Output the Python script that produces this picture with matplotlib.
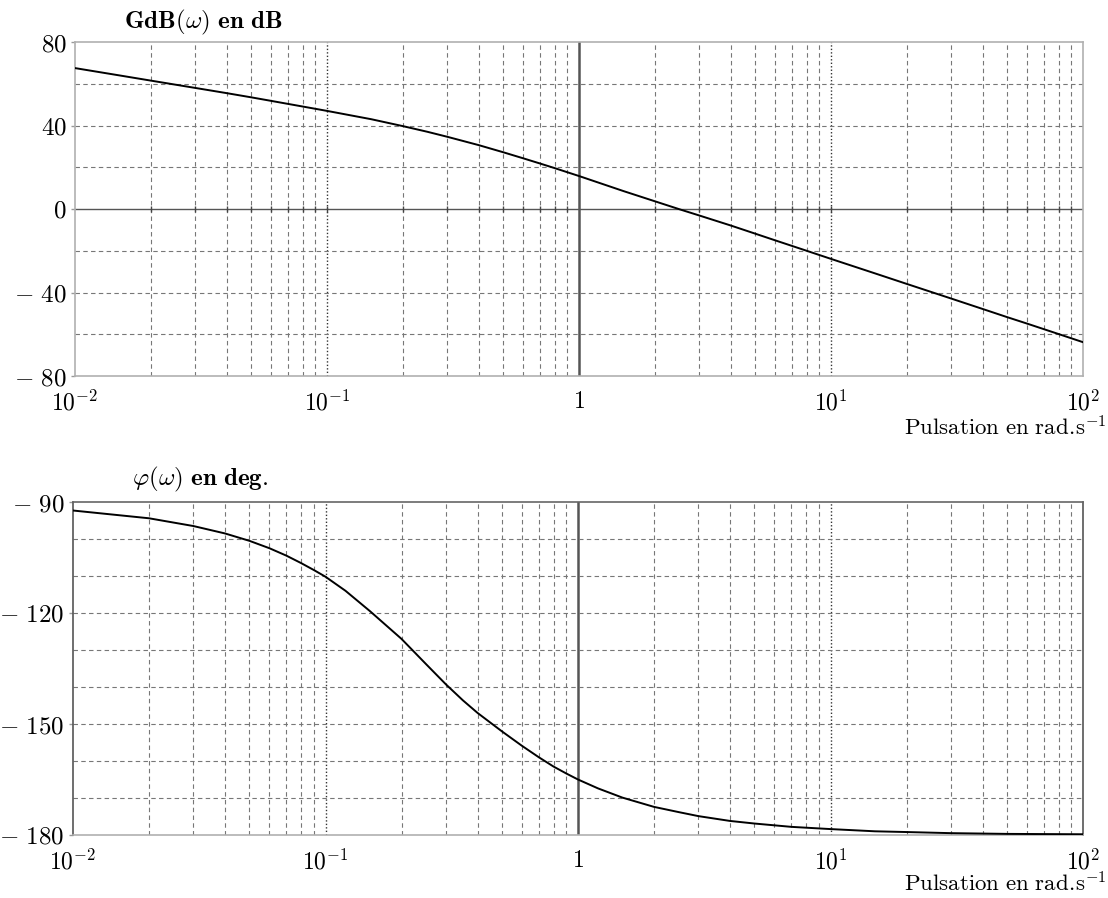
import numpy as np
import matplotlib
matplotlib.use("Agg")
import matplotlib.pyplot as plt
from matplotlib.ticker import FixedLocator, NullFormatter

plt.rcParams["mathtext.fontset"] = "cm"
plt.rcParams["font.family"] = "serif"

# Gain readings (rad/s, dB)
omega_gain = [0.01, 0.015, 0.02, 0.03, 0.04, 0.05, 0.06, 0.08, 0.1, 0.12,
              0.15, 0.2, 0.25, 0.3, 0.4, 0.5, 0.6, 0.7, 0.8, 1, 1.5, 2, 2.5,
              3, 4, 5, 6, 8, 10, 15, 20, 30, 40, 50, 60, 80, 100]
gain_db = [67.5, 64.0, 61.5, 58.0, 55.5, 53.5, 51.8, 49.1, 47.0, 45.2,
           43.0, 39.7, 37.0, 34.6, 30.6, 27.2, 24.3, 21.8, 19.6, 15.8, 8.6,
           3.7, -0.1, -3.1, -7.9, -11.8, -15.0, -20.0, -23.9, -30.9, -35.9,
           -42.9, -47.9, -51.8, -54.9, -59.9, -63.8]

# Phase readings (rad/s, deg)
omega_phase = [0.01, 0.02, 0.03, 0.04, 0.05, 0.06, 0.07, 0.08, 0.09, 0.1,
               0.12, 0.15, 0.2, 0.25, 0.3, 0.35, 0.4, 0.5, 0.6, 0.7, 0.8,
               0.9, 1, 1.2, 1.5, 2, 2.5, 3, 4, 5, 7, 10, 15, 20, 30, 50, 100]
phase_deg = [-92.3, -94.4, -96.5, -98.5, -100.5, -102.5, -104.5, -106.5,
             -108.4, -110.2, -114.0, -119.5, -127.0, -133.8, -139.3, -143.6,
             -147.0, -152.0, -155.9, -159.0, -161.5, -163.4, -165.0,
             -167.4, -169.9, -172.4, -173.8, -174.9, -176.2, -176.9,
             -177.8, -178.4, -179.0, -179.2, -179.5, -179.7, -179.8]

x_ticks = [0.01, 0.1, 1, 10, 100]
x_labels = [r"$10^{-2}$", r"$10^{-1}$", r"$1$", r"$10^{1}$", r"$10^{2}$"]

gain_ticks = [80, 40, 0, -40, -80]
gain_labels = [r"$80$", r"$40$", r"$0$", r"$-\ 40$", r"$-\ 80$"]
gain_grid = [60, 40, 20, -20, -40, -60]

phase_ticks = [-90, -120, -150, -180]
phase_labels = [r"$-\ 90$", r"$-\ 120$", r"$-\ 150$", r"$-\ 180$"]
phase_grid = [-100, -110, -120, -130, -140, -150, -160, -170]

minor_x = [m * d for d in [0.01, 0.1, 1, 10] for m in range(2, 10)]

fig = plt.figure(figsize=(11.08, 8.98), dpi=100)
ax1 = fig.add_axes([75 / 1108, 1 - 376 / 898, 1008 / 1108, 334 / 898])
ax2 = fig.add_axes([73 / 1108, 1 - 835 / 898, 1010 / 1108, 333 / 898])

grid_col = "#777777"
dash = (0, (4, 3))


def setup(ax, yticks, ylabels, ylim, hgrid):
    ax.set_xscale("log")
    ax.set_xlim(0.01, 100)
    ax.set_ylim(*ylim)
    ax.xaxis.set_major_locator(FixedLocator(x_ticks))
    ax.set_xticklabels(x_labels, fontsize=17)
    ax.xaxis.set_minor_locator(FixedLocator(minor_x))
    ax.xaxis.set_minor_formatter(NullFormatter())
    ax.set_yticks(yticks)
    ax.set_yticklabels(ylabels, fontsize=18)
    ax.tick_params(axis="x", which="both", length=0, pad=10)
    ax.tick_params(axis="y", length=3, width=1, color="#999999", pad=3)
    for s in ax.spines.values():
        s.set_color("#b0b0b0")
        s.set_linewidth(1.2)
    for x in minor_x:
        ax.axvline(x, color=grid_col, ls=dash, lw=0.8, zorder=1)
    for x in [0.1, 10]:
        ax.axvline(x, color="#333333", ls=(0, (1, 1.5)), lw=1.0, zorder=1)
    ax.axvline(1, color="#555555", lw=1.8, zorder=1)
    for y in hgrid:
        ax.axhline(y, color=grid_col, ls=dash, lw=0.8, zorder=1)


setup(ax1, gain_ticks, gain_labels, (-80, 80), gain_grid)
ax1.axhline(0, color="#555555", lw=1.0, zorder=1)
ax1.plot(minor_x + [0.1, 10], [0] * (len(minor_x) + 2), ls="none",
         marker="|", ms=5, mew=1, color="#444444", zorder=2)
ax1.plot(omega_gain, gain_db, color="black", lw=1.4, zorder=3)

setup(ax2, phase_ticks, phase_labels, (-180, -90), phase_grid)
ax2.spines["left"].set_color("#555555")
ax2.spines["right"].set_color("#555555")
ax2.spines["top"].set_color("#666666")
ax2.plot(omega_phase, phase_deg, color="black", lw=1.4, zorder=3)

fig.text(124 / 1108, 1 - 22 / 898, r"$\mathbf{GdB(}\omega\mathbf{)\ en\ dB}$",
         fontsize=18, va="center", ha="left")
fig.text(132 / 1108, 1 - 479 / 898, r"$\varphi\mathbf{(}\omega\mathbf{)\ en\ deg.}$",
         fontsize=18, va="center", ha="left")
xlabel = r"$\mathrm{Pulsation\ en\ rad.}\!\mathrm{s}^{-1}$"
fig.text(1106 / 1108, 1 - 435 / 898, xlabel, fontsize=16.5, va="baseline", ha="right")
fig.text(1106 / 1108, 1 - 892 / 898, xlabel, fontsize=16.5, va="baseline", ha="right")

fig.savefig("out.png", dpi=100)
